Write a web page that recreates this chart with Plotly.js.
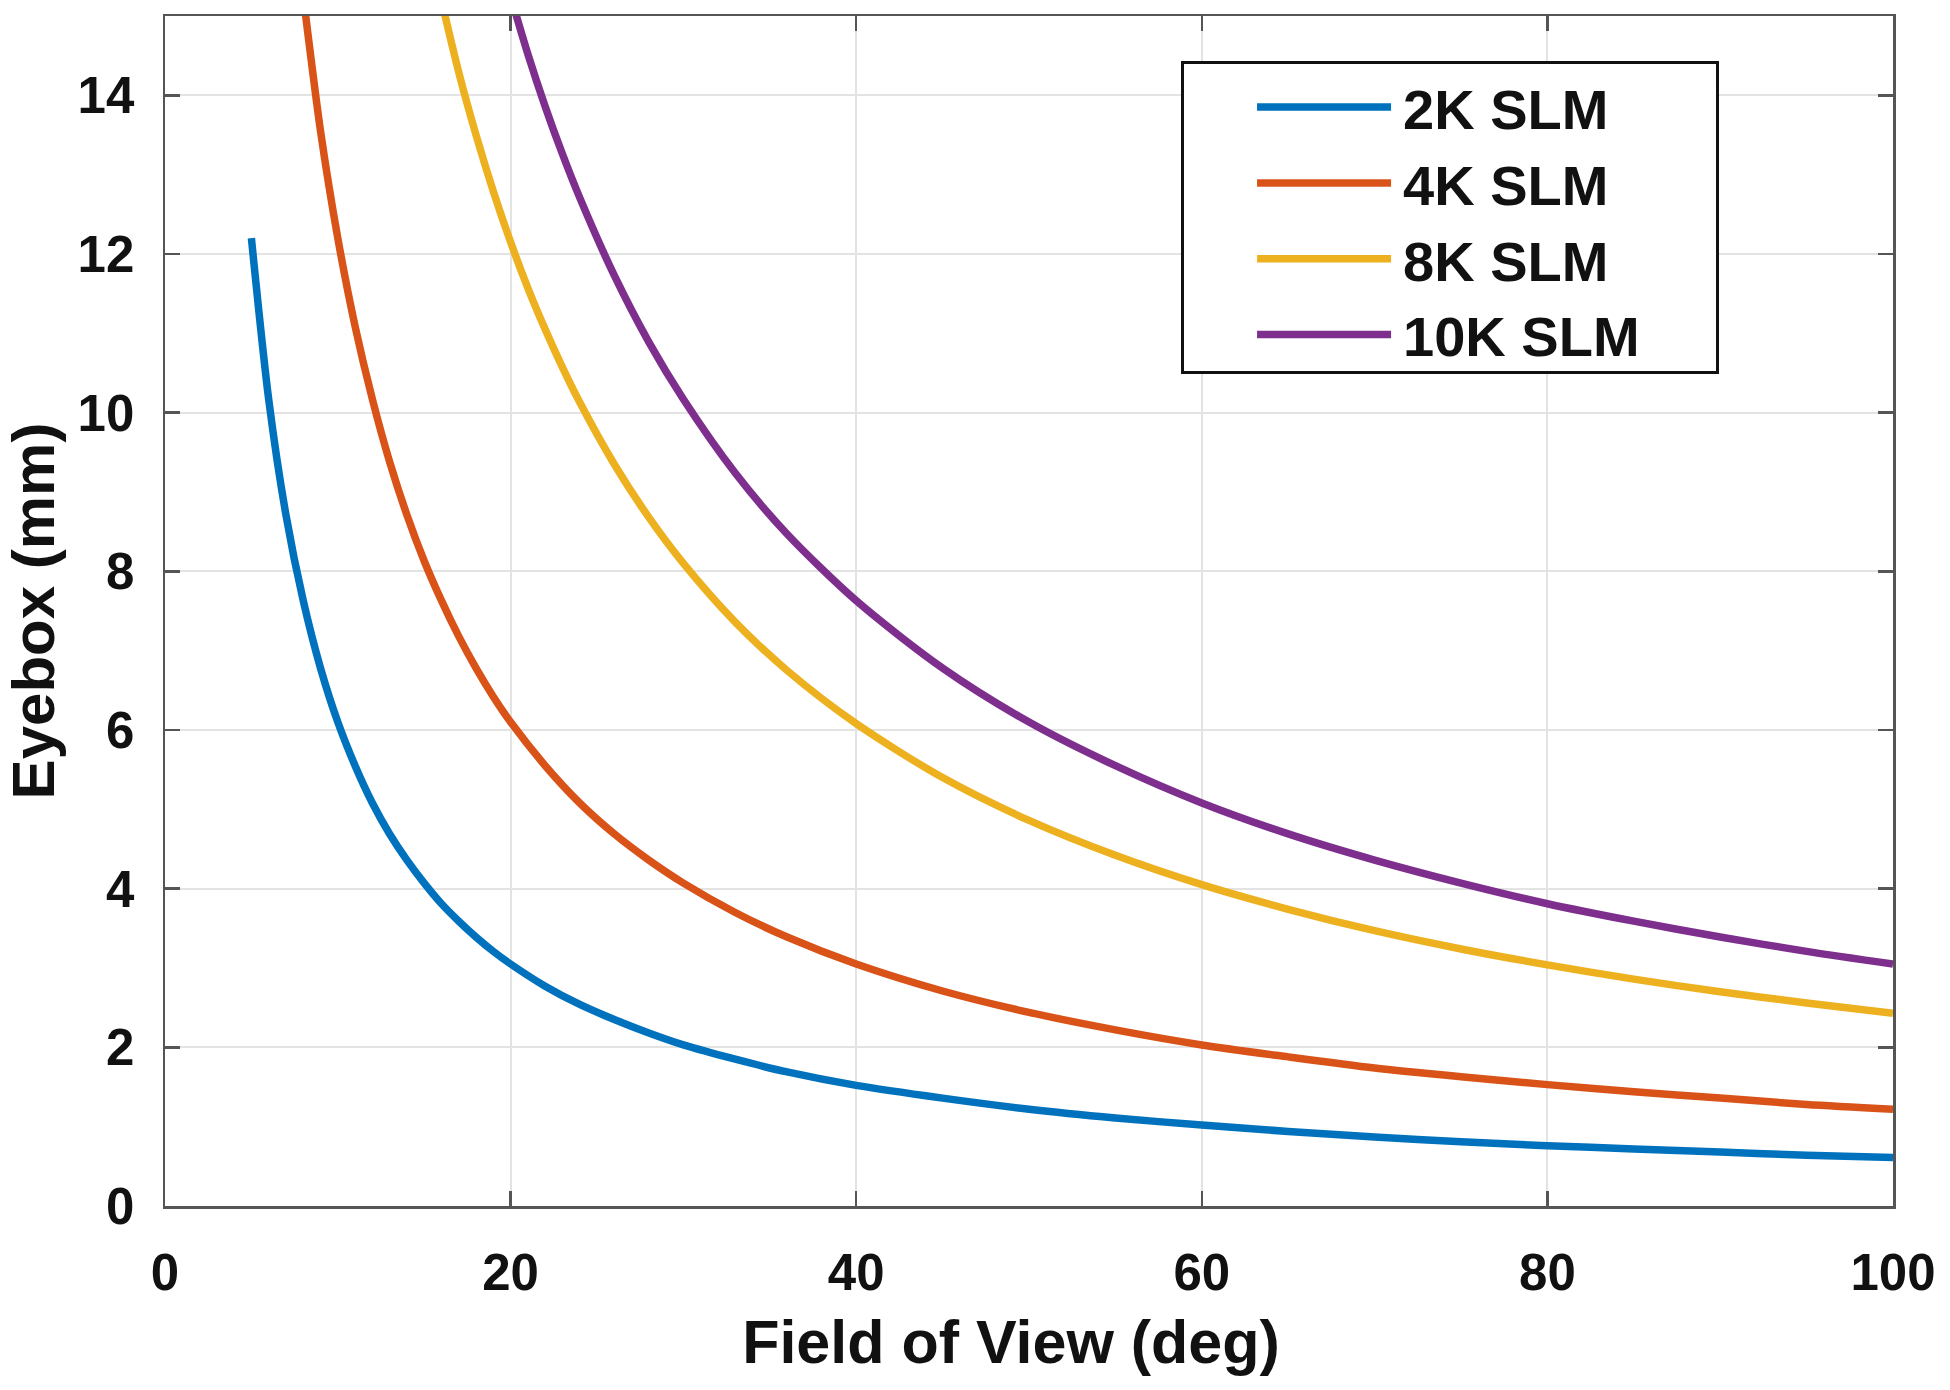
<!DOCTYPE html>
<html>
<head>
<meta charset="utf-8">
<script src="https://cdn.plot.ly/plotly-3.0.1.min.js"></script>
<style>
  html, body { margin: 0; padding: 0; background: #ffffff; }
  #chart { width: 1950px; height: 1390px; }
</style>
</head>
<body>
<div id="chart"></div>
<script>
// ---- Data ----
const seriesNames = ["2K SLM", "4K SLM", "8K SLM", "10K SLM"];

const fov2K = [5, 6, 7, 8, 9, 10, 11, 12, 13, 14, 15, 16, 17, 18, 19, 20, 22, 24, 26, 28, 30, 33, 36, 40, 45, 50, 55, 60, 65, 70, 75, 80, 85, 90, 95, 100];
const eye2K = [12.2, 10.17, 8.71, 7.63, 6.78, 6.1, 5.55, 5.08, 4.69, 4.36, 4.07, 3.81, 3.59, 3.39, 3.21, 3.05, 2.77, 2.54, 2.35, 2.18, 2.03, 1.85, 1.69, 1.52, 1.36, 1.22, 1.11, 1.02, 0.94, 0.87, 0.81, 0.76, 0.72, 0.68, 0.64, 0.61];

const fov4K = [7.8, 8, 9, 10, 11, 12, 13, 14, 15, 16, 17, 18, 19, 20, 22, 24, 26, 28, 30, 33, 36, 40, 45, 50, 55, 60, 65, 70, 75, 80, 85, 90, 95, 100];
const eye4K = [15.6, 15.25, 13.55, 12.2, 11.09, 10.17, 9.38, 8.71, 8.13, 7.63, 7.18, 6.78, 6.42, 6.1, 5.55, 5.08, 4.69, 4.36, 4.07, 3.7, 3.39, 3.05, 2.71, 2.44, 2.22, 2.03, 1.88, 1.74, 1.63, 1.53, 1.44, 1.36, 1.28, 1.22];

const fov8K = [15.8, 17, 18, 19, 20, 21, 22, 23, 24, 26, 28, 30, 33, 36, 40, 45, 50, 55, 60, 65, 70, 75, 80, 85, 90, 95, 100];
const eye8K = [15.38, 14.29, 13.5, 12.79, 12.15, 11.57, 11.05, 10.57, 10.13, 9.35, 8.68, 8.1, 7.36, 6.75, 6.08, 5.4, 4.86, 4.42, 4.05, 3.74, 3.47, 3.24, 3.04, 2.86, 2.7, 2.56, 2.43];

const fov10K = [20, 21, 22, 23, 24, 26, 28, 30, 33, 36, 40, 45, 50, 55, 60, 65, 70, 75, 80, 85, 90, 95, 100];
const eye10K = [15.25, 14.52, 13.86, 13.26, 12.71, 11.73, 10.89, 10.17, 9.24, 8.47, 7.63, 6.78, 6.1, 5.55, 5.08, 4.69, 4.36, 4.07, 3.81, 3.59, 3.39, 3.21, 3.05];

const xTicks = [0, 20, 40, 60, 80, 100];
const yTicks = [0, 2, 4, 6, 8, 10, 12, 14];

// ---- Styling ----
const colors = ["#0072BD", "#D95319", "#EDB120", "#7E2F8E"];
const xs = [fov2K, fov4K, fov8K, fov10K];
const ys = [eye2K, eye4K, eye8K, eye10K];
const FONT = "Liberation Sans, Arial, Helvetica, sans-serif";

const traces = seriesNames.map((name, i) => ({
  type: "scatter",
  mode: "lines",
  name: name,
  x: xs[i],
  y: ys[i],
  line: { color: colors[i], width: 7.5, shape: "spline", smoothing: 0.8 }
}));

const axisCommon = {
  showline: true,
  linecolor: "#555555",
  linewidth: 2.5,
  mirror: "ticks",
  ticks: "inside",
  ticklen: 15,
  tickwidth: 2.5,
  tickcolor: "#555555",
  showgrid: true,
  gridcolor: "#e3e3e3",
  gridwidth: 2,
  zeroline: false,
  tickfont: { family: FONT, size: 51, color: "#111111", weight: "bold" }
};

const layout = {
  width: 1950,
  height: 1390,
  margin: { l: 165, r: 57, t: 16, b: 184 },
  paper_bgcolor: "#ffffff",
  plot_bgcolor: "#ffffff",
  showlegend: true,
  font: { family: FONT, color: "#111111" },
  xaxis: Object.assign({}, axisCommon, {
    range: [0, 100],
    tickmode: "array",
    tickvals: xTicks,
    ticktext: xTicks.map(String),
    ticklabelstandoff: 20,
    title: { text: "Field of View (deg)", font: { family: FONT, size: 61, color: "#111111", weight: "bold" }, standoff: 16 },
    automargin: false
  }),
  yaxis: Object.assign({}, axisCommon, {
    range: [0, 15],
    tickmode: "array",
    tickvals: yTicks,
    ticktext: yTicks.map(String),
    ticklabelstandoff: 18,
    title: { text: "Eyebox (mm)", font: { family: FONT, size: 60, color: "#111111", weight: "bold" }, standoff: 20 },
    automargin: false
  }),
  legend: {
    x: 0.588,
    y: 0.962,
    xanchor: "left",
    yanchor: "top",
    bgcolor: "#ffffff",
    bordercolor: "#111111",
    borderwidth: 3,
    itemwidth: 209,
    font: { family: FONT, size: 56, color: "#111111", weight: "bold" },
    itemclick: false,
    itemdoubleclick: false
  }
};

Plotly.newPlot("chart", traces, layout, { staticPlot: true, displayModeBar: false }).then(function (gd) {
  // reference legend has long sample lines and extra right padding
  gd.querySelectorAll(".legend .legendlines path").forEach(function (p) {
    p.setAttribute("d", "M73,0h134");
  });
  const bg = gd.querySelector(".legend rect.bg");
  if (bg) { bg.setAttribute("width", 535); bg.setAttribute("height", 310); }
  // reference x-axis title sits slightly left of centre
  const xt = gd.querySelector(".g-xtitle");
  if (xt) { xt.setAttribute("transform", "translate(-18,5)"); }
});
</script>
</body>
</html>
